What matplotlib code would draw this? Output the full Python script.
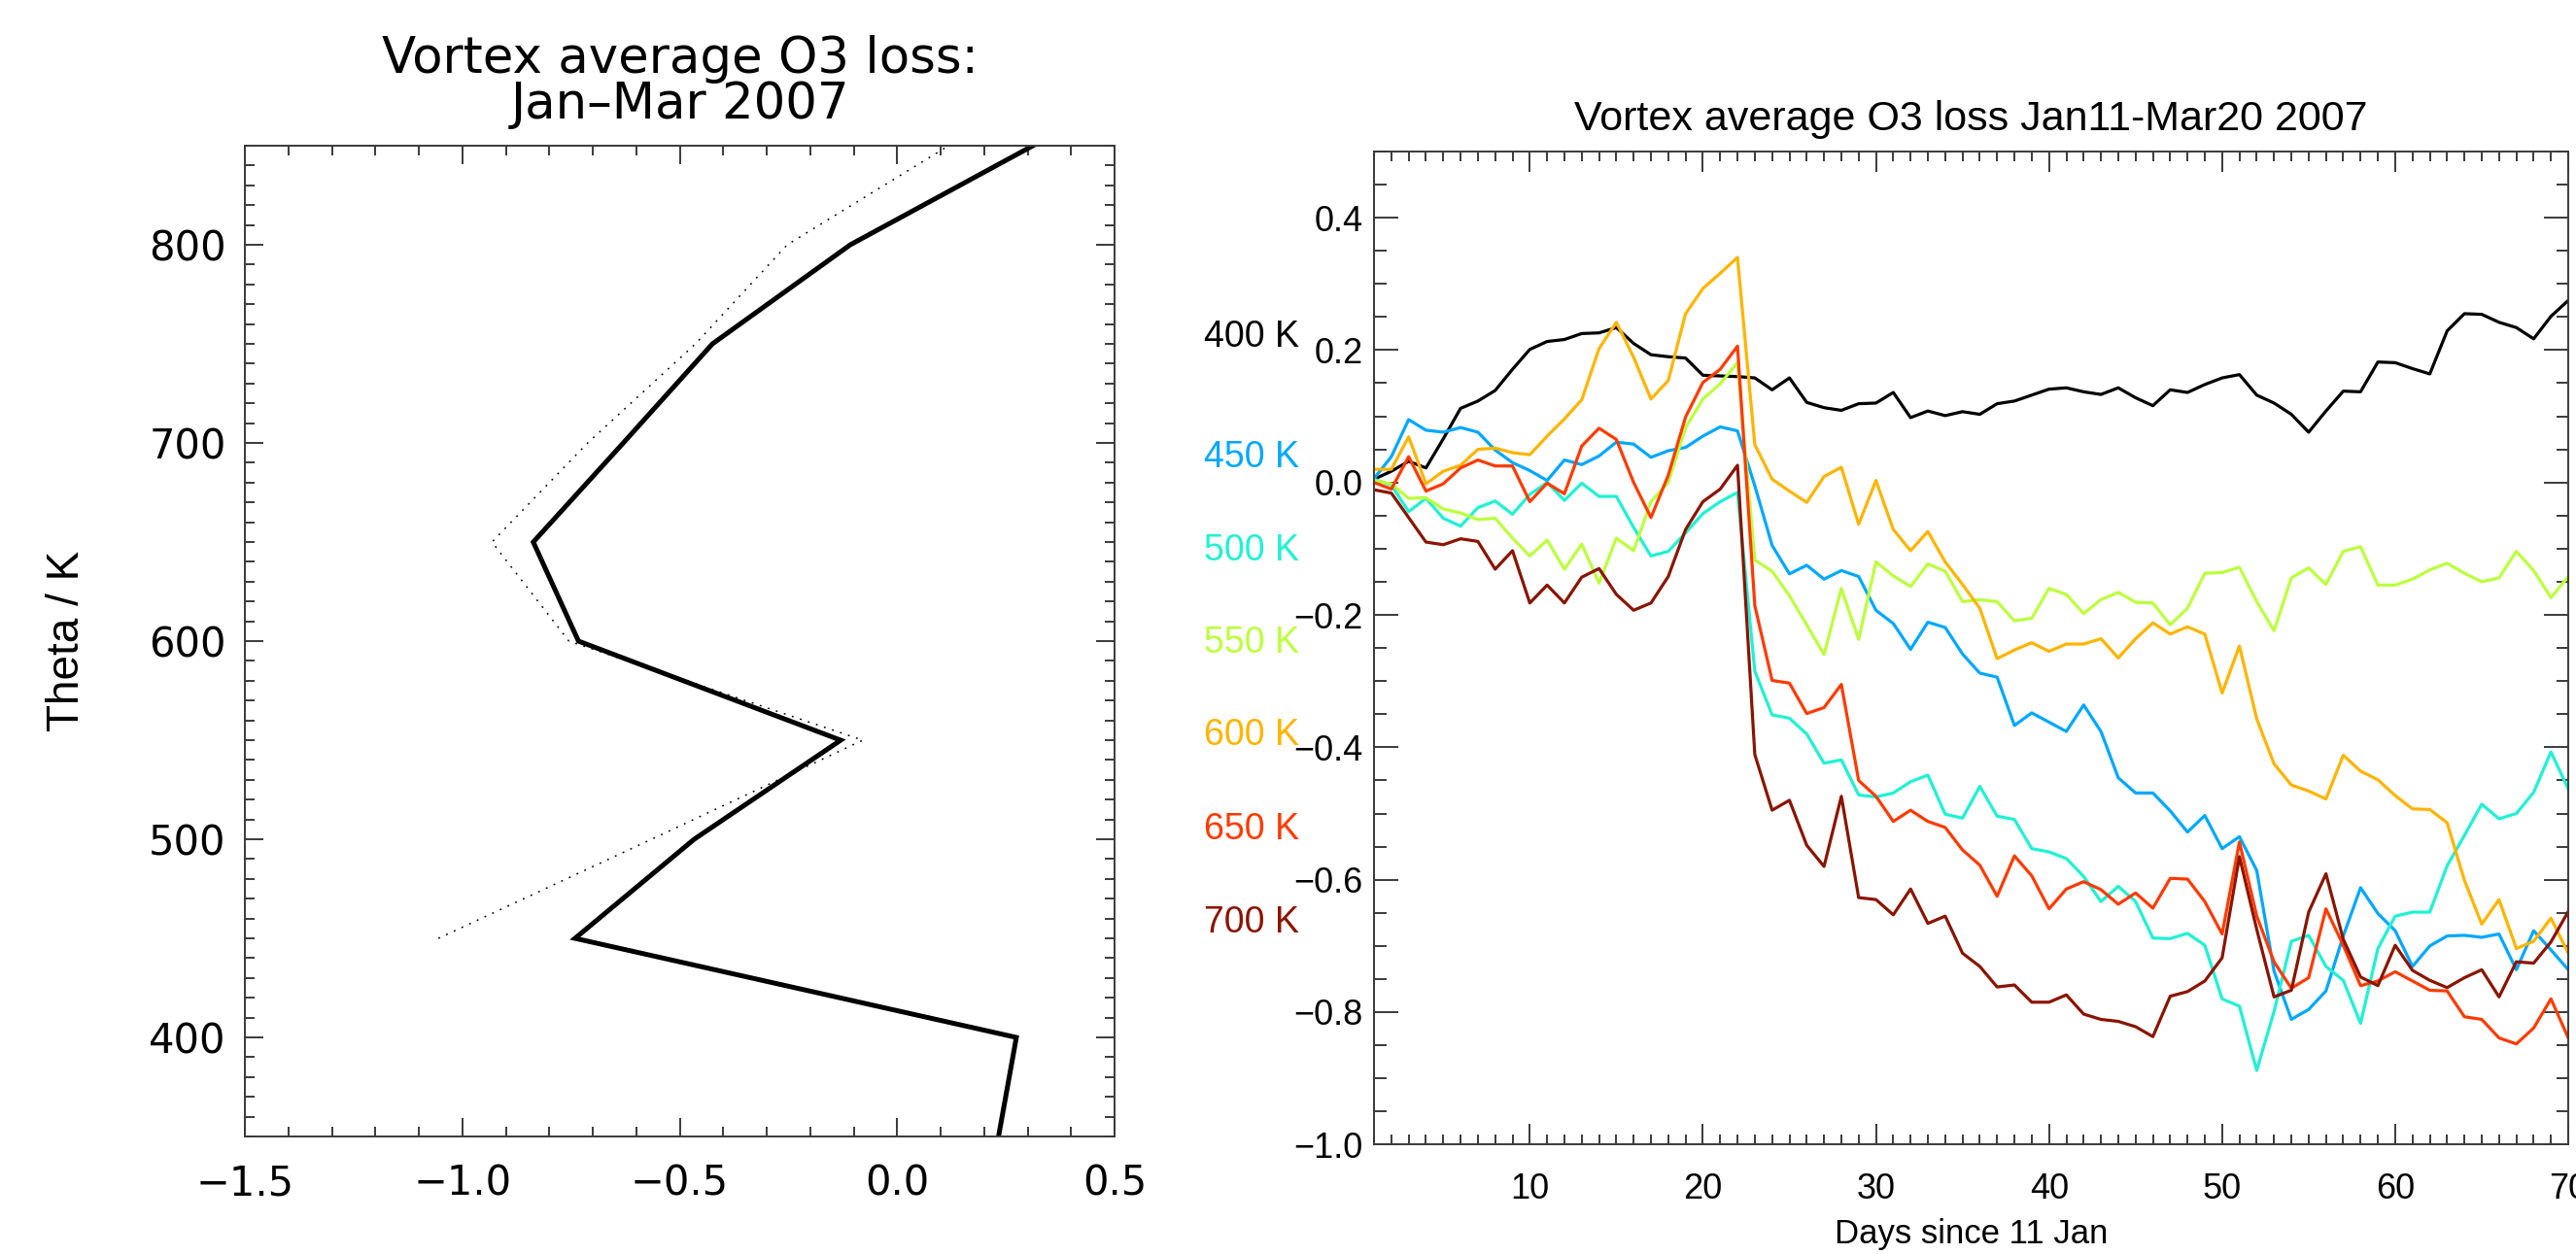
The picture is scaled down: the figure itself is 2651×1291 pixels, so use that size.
import matplotlib
matplotlib.use("Agg")
import matplotlib.pyplot as plt
from matplotlib.ticker import MultipleLocator, FuncFormatter

# ---- left panel: vortex average loss profile ----
theta_solid = [350, 400, 450, 500, 550, 600, 650, 700, 750, 800, 850]
loss_solid = [0.233, 0.274, -0.741, -0.467, -0.130, -0.733, -0.837, -0.630, -0.425, -0.108, 0.312]
theta_dotted = [450, 500, 550, 600, 650, 700, 750, 800, 850]
loss_dotted = [-1.055, -0.565, -0.079, -0.755, -0.932, -0.712, -0.464, -0.253, 0.118]

# ---- right panel: daily loss per level ----
days = list(range(1, 71))
levels = ["400 K", "450 K", "500 K", "550 K", "600 K", "650 K", "700 K"]
colors = ["#000000", "#00A8FF", "#1EF2D4", "#BBFF3C", "#FFB400", "#FF3A00", "#8B1400"]

loss_400 = [0.005, 0.017, 0.032, 0.022, 0.066, 0.112, 0.123, 0.139, 0.171, 0.201,
            0.213, 0.216, 0.225, 0.226, 0.234, 0.210, 0.193, 0.190, 0.188, 0.162,
            0.161, 0.160, 0.158, 0.140, 0.158, 0.121, 0.113, 0.109, 0.119, 0.120,
            0.136, 0.098, 0.108, 0.101, 0.107, 0.103, 0.119, 0.123, 0.132, 0.141,
            0.143, 0.137, 0.133, 0.143, 0.128, 0.116, 0.140, 0.136, 0.148, 0.158,
            0.163, 0.132, 0.120, 0.103, 0.076, 0.108, 0.138, 0.137, 0.182, 0.181,
            0.172, 0.164, 0.229, 0.255, 0.254, 0.242, 0.234, 0.217, 0.251, 0.275]
loss_450 = [0.006, 0.039, 0.095, 0.079, 0.076, 0.083, 0.076, 0.049, 0.030, 0.018,
            0.003, 0.034, 0.027, 0.040, 0.061, 0.058, 0.038, 0.048, 0.053, 0.070,
            0.084, 0.078, -0.005, -0.095, -0.138, -0.125, -0.146, -0.133, -0.142, -0.193,
            -0.213, -0.252, -0.211, -0.219, -0.259, -0.288, -0.294, -0.367, -0.348, -0.362,
            -0.376, -0.336, -0.376, -0.446, -0.469, -0.469, -0.496, -0.528, -0.503, -0.553,
            -0.535, -0.586, -0.738, -0.811, -0.796, -0.768, -0.685, -0.612, -0.651, -0.677,
            -0.731, -0.700, -0.685, -0.684, -0.687, -0.682, -0.736, -0.677, -0.706, -0.736]
loss_500 = [0.005, -0.004, -0.044, -0.024, -0.054, -0.066, -0.038, -0.028, -0.048, -0.018,
            0.000, -0.027, -0.001, -0.021, -0.021, -0.068, -0.111, -0.104, -0.076, -0.047,
            -0.029, -0.015, -0.285, -0.351, -0.356, -0.380, -0.424, -0.419, -0.472, -0.475,
            -0.469, -0.452, -0.442, -0.501, -0.507, -0.459, -0.504, -0.509, -0.553, -0.558,
            -0.568, -0.595, -0.633, -0.610, -0.633, -0.688, -0.689, -0.681, -0.699, -0.780,
            -0.791, -0.888, -0.799, -0.693, -0.684, -0.731, -0.752, -0.817, -0.704, -0.655,
            -0.649, -0.649, -0.579, -0.533, -0.486, -0.508, -0.500, -0.468, -0.407, -0.463]
loss_550 = [0.003, -0.002, -0.024, -0.023, -0.040, -0.046, -0.056, -0.054, -0.084, -0.111,
            -0.087, -0.131, -0.093, -0.152, -0.084, -0.103, -0.029, 0.000, 0.083, 0.126,
            0.149, 0.181, -0.117, -0.134, -0.171, -0.215, -0.260, -0.160, -0.237, -0.120,
            -0.141, -0.157, -0.123, -0.134, -0.180, -0.177, -0.180, -0.209, -0.205, -0.160,
            -0.169, -0.198, -0.177, -0.166, -0.181, -0.182, -0.215, -0.190, -0.137, -0.136,
            -0.128, -0.180, -0.224, -0.144, -0.129, -0.154, -0.104, -0.097, -0.155, -0.155,
            -0.146, -0.132, -0.122, -0.137, -0.150, -0.144, -0.104, -0.133, -0.174, -0.142]
loss_600 = [0.020, 0.020, 0.069, -0.002, 0.017, 0.026, 0.050, 0.052, 0.045, 0.042,
            0.070, 0.096, 0.125, 0.202, 0.242, 0.189, 0.126, 0.154, 0.255, 0.293,
            0.316, 0.340, 0.057, 0.005, -0.013, -0.030, 0.009, 0.023, -0.063, 0.003,
            -0.071, -0.103, -0.074, -0.120, -0.154, -0.190, -0.266, -0.253, -0.242, -0.255,
            -0.244, -0.244, -0.236, -0.265, -0.236, -0.212, -0.229, -0.218, -0.229, -0.318,
            -0.247, -0.357, -0.425, -0.457, -0.466, -0.478, -0.412, -0.436, -0.449, -0.473,
            -0.493, -0.494, -0.514, -0.601, -0.667, -0.630, -0.704, -0.693, -0.658, -0.711]
loss_650 = [0.000, -0.010, 0.039, -0.013, -0.002, 0.022, 0.034, 0.025, 0.025, -0.029,
            -0.001, -0.017, 0.055, 0.082, 0.065, 0.000, -0.053, 0.011, 0.099, 0.151,
            0.171, 0.206, -0.186, -0.299, -0.303, -0.349, -0.340, -0.305, -0.450, -0.474,
            -0.512, -0.495, -0.512, -0.521, -0.555, -0.578, -0.625, -0.564, -0.594, -0.644,
            -0.614, -0.603, -0.615, -0.637, -0.620, -0.643, -0.598, -0.599, -0.633, -0.682,
            -0.543, -0.655, -0.724, -0.764, -0.748, -0.644, -0.699, -0.760, -0.753, -0.739,
            -0.753, -0.767, -0.768, -0.807, -0.811, -0.839, -0.848, -0.824, -0.780, -0.839]
loss_700 = [-0.011, -0.016, -0.053, -0.090, -0.094, -0.085, -0.089, -0.131, -0.103, -0.182,
            -0.155, -0.182, -0.143, -0.130, -0.169, -0.193, -0.182, -0.142, -0.071, -0.029,
            -0.010, 0.026, -0.411, -0.495, -0.480, -0.548, -0.580, -0.474, -0.627, -0.630,
            -0.653, -0.614, -0.666, -0.655, -0.711, -0.731, -0.762, -0.759, -0.785, -0.785,
            -0.774, -0.803, -0.811, -0.814, -0.822, -0.837, -0.776, -0.769, -0.753, -0.718,
            -0.565, -0.675, -0.777, -0.767, -0.649, -0.591, -0.690, -0.747, -0.760, -0.699,
            -0.737, -0.752, -0.763, -0.748, -0.736, -0.777, -0.724, -0.726, -0.694, -0.648]
series = [loss_400, loss_450, loss_500, loss_550, loss_600, loss_650, loss_700]
label_y = [0.219, 0.038, -0.103, -0.243, -0.382, -0.524, -0.665]

WIDE = ["DejaVu Sans"]
NARROW = ["Liberation Sans", "DejaVu Sans"]
AXCOL = "#3a3a3a"


def minus(fmt):
    return FuncFormatter(lambda v, _: fmt.format(v).replace("-", "\u2212"))


fig = plt.figure(figsize=(26.51, 12.91), dpi=100)

# ---------------- left panel ----------------
ax1 = fig.add_axes([0.0951, 0.0937, 0.3376, 0.7901])
ax1.plot(loss_solid, theta_solid, color="black", lw=3.6, solid_joinstyle="miter")
ax1.plot(loss_dotted, theta_dotted, color="black", lw=1.1, linestyle=(0, (1.2, 4.5)))
ax1.set_xlim(-1.5, 0.5)
ax1.set_ylim(350, 850)
ax1.xaxis.set_major_locator(MultipleLocator(0.5))
ax1.xaxis.set_minor_locator(MultipleLocator(0.1))
ax1.yaxis.set_major_locator(MultipleLocator(100))
ax1.yaxis.set_minor_locator(MultipleLocator(10))
ax1.xaxis.set_major_formatter(minus("{:.1f}"))
ax1.yaxis.set_major_formatter(FuncFormatter(lambda v, _: f"{v:.0f}"))
ax1.tick_params(which="both", direction="in", top=True, right=True,
                color=AXCOL, width=1.4)
ax1.tick_params(which="major", length=14)
ax1.tick_params(which="minor", length=7)
ax1.tick_params(axis="x", which="major", pad=20)
ax1.tick_params(axis="y", which="major", pad=14)
for lab in ax1.get_xticklabels() + ax1.get_yticklabels():
    lab.set_family(WIDE)
    lab.set_fontsize(30)
for sp in ax1.spines.values():
    sp.set_color(AXCOL)
    sp.set_linewidth(1.4)
ax1.set_ylabel("Theta / K", family=NARROW, fontsize=33)
ax1.yaxis.set_label_coords(-0.18, 0.5)
fig.text(700 / 2651, 1 - 75 / 1291, "Vortex average O3 loss:", family=WIDE,
         fontsize=37, ha="center", va="baseline")
fig.text(700 / 2651, 1 - 122 / 1291, "Jan\u2013Mar 2007", family=WIDE,
         fontsize=37, ha="center", va="baseline")

# ---------------- right panel ----------------
ax2 = fig.add_axes([0.5334, 0.0873, 0.4636, 0.7919])
for vals, col in zip(series, colors):
    ax2.plot(days, vals, color=col, lw=2.3)
ax2.set_xlim(1, 70)
ax2.set_ylim(-1.0, 0.5)
ax2.xaxis.set_major_locator(MultipleLocator(10))
ax2.xaxis.set_minor_locator(MultipleLocator(1))
ax2.yaxis.set_minor_locator(MultipleLocator(0.05))
ax2.set_yticks([-1.0, -0.8, -0.6, -0.4, -0.2, 0.0, 0.2, 0.4])
ax2.xaxis.set_major_formatter(FuncFormatter(lambda v, _: f"{v:.0f}"))
ax2.yaxis.set_major_formatter(minus("{:.1f}"))
ax2.tick_params(which="both", direction="in", top=True, right=True,
                color=AXCOL, width=1.4)
ax2.tick_params(axis="y", which="major", length=18, pad=8)
ax2.tick_params(axis="y", which="minor", length=9)
ax2.tick_params(axis="x", which="major", length=15, pad=21)
ax2.tick_params(axis="x", which="minor", length=7)
for lab in ax2.get_xticklabels() + ax2.get_yticklabels():
    lab.set_family(NARROW)
    lab.set_fontsize(26)
for sp in ax2.spines.values():
    sp.set_color(AXCOL)
    sp.set_linewidth(1.4)
ax2.set_title("Vortex average O3 loss Jan11-Mar20 2007", family=NARROW,
              fontsize=31, pad=16)
ax2.set_xlabel("Days since 11 Jan", family=NARROW, fontsize=25, labelpad=8)
for name, col, yy in zip(levels, colors, label_y):
    ax2.text(-0.063, yy, name, color=col, family=NARROW, fontsize=27,
             ha="right", va="center", transform=ax2.get_yaxis_transform())

fig.savefig("out.png", dpi=100)
